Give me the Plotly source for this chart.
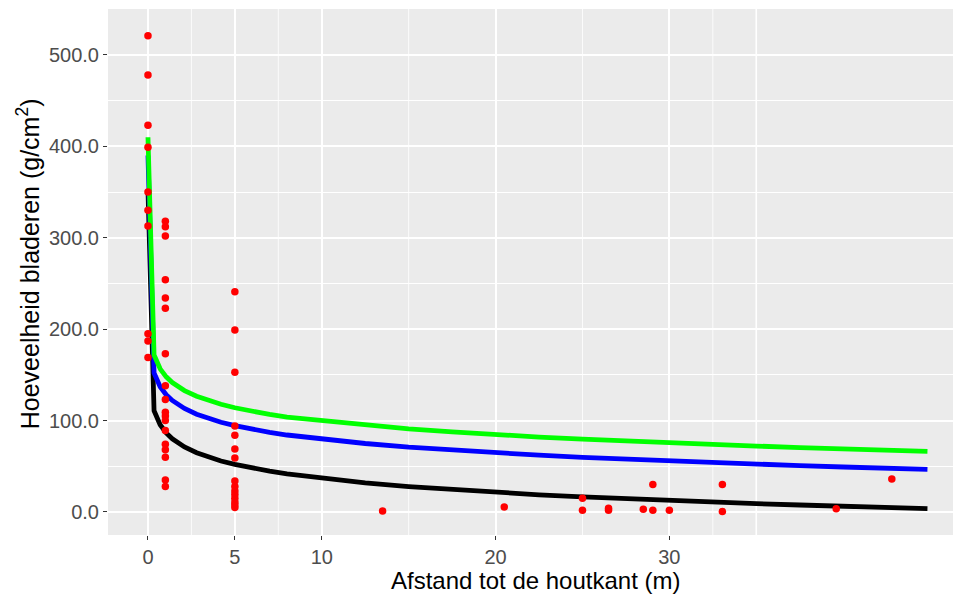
import plotly.graph_objects as go

# Measured leaf amounts per distance from the forest edge
pts_x = (
    [0] * 10
    + [1] * 18
    + [5] * 15
    + [13.5, 20.5, 25, 25, 26.5, 26.5, 28.5, 29.05, 29.05, 30, 33.05, 33.05, 39.6, 42.8]
)
pts_y = (
    [521, 478, 423, 399, 350, 330, 313, 195, 187, 169]
    + [318, 312, 302, 254, 234, 223, 173, 138, 123, 109, 105, 100, 89, 74, 68, 60, 35, 28]
    + [241, 199, 153, 94, 84, 69, 59, 34, 28, 23, 19, 15, 11, 8, 5]
    + [1, 5.5, 15, 2, 4, 2, 3, 30, 2, 2, 30, 0.5, 3.6, 36]
)

# Fitted curves sampled along the distance axis
fit_x = [0, 0.35, 0.7, 1.05, 1.4, 2.1, 2.8, 3.5, 4.2, 5, 6, 7, 8, 10, 12.5, 15,
         17.5, 20, 22.5, 25, 27.5, 30, 32.5, 35, 37.5, 40, 42.5, 44.85]
fit_black = [353, 110.7, 95.4, 86.4, 80.1, 71.1, 64.8, 59.9, 55.8, 52.0, 48.0, 44.6,
             41.6, 36.7, 31.8, 27.8, 24.4, 21.4, 18.8, 16.5, 14.4, 12.5, 10.7, 9.1,
             7.6, 6.1, 4.8, 3.6]
fit_blue = [390, 152.0, 137.0, 128.2, 122.0, 113.2, 107.0, 102.1, 98.2, 94.4, 90.4,
            87.1, 84.2, 79.8, 74.9, 70.9, 67.6, 64.6, 62.1, 59.8, 57.7, 55.6, 53.8,
            52.1, 50.6, 49.2, 47.9, 46.7]
fit_green = [410, 171.7, 156.6, 147.8, 141.6, 132.8, 126.6, 121.7, 117.8, 114.0, 110.0,
             106.7, 103.8, 99.9, 95.0, 91.0, 87.7, 84.4, 81.9, 79.6, 77.5, 75.6, 73.8,
             72.1, 70.5, 68.9, 67.6, 66.4]

x_ticks = [0, 5, 10, 20, 30]
x_minor_grid = [2.5, 7.5, 15, 25, 32.5]
x_extra_major_grid = [35]
y_ticks = [0, 100, 200, 300, 400, 500]

FONT = "Liberation Sans, Arial, sans-serif"

fig = go.Figure()

for ys, col in [(fit_black, "black"), (fit_blue, "#0000FF"), (fit_green, "#00FF00")]:
    fig.add_trace(go.Scatter(
        x=fit_x, y=ys, mode="lines",
        line=dict(color=col, width=4.8),
        hoverinfo="skip", showlegend=False,
    ))

fig.add_trace(go.Scatter(
    x=pts_x, y=pts_y, mode="markers",
    marker=dict(color="#FF0000", size=7.5, line=dict(width=0)),
    showlegend=False,
))

shapes = []
for v in x_minor_grid:
    shapes.append(dict(type="line", xref="x", yref="paper", x0=v, x1=v, y0=0, y1=1,
                       line=dict(color="white", width=0.8), layer="below"))
for v in x_extra_major_grid:
    shapes.append(dict(type="line", xref="x", yref="paper", x0=v, x1=v, y0=0, y1=1,
                       line=dict(color="white", width=1.6), layer="below"))

fig.update_layout(
    width=953, height=595,
    margin=dict(l=108, r=0, t=9, b=60),
    paper_bgcolor="white",
    plot_bgcolor="#EBEBEB",
    shapes=shapes,
    xaxis=dict(
        range=[-2.30, 46.32],
        tickvals=x_ticks,
        ticktext=[str(v) for v in x_ticks],
        showgrid=True, gridcolor="white", gridwidth=1.6,
        zeroline=False, showline=False,
        ticks="outside", ticklen=4, tickwidth=1.1, tickcolor="#333333",
        tickfont=dict(family=FONT, size=20, color="#4D4D4D"),
    ),
    yaxis=dict(
        range=[-25.2, 550.3],
        tickvals=y_ticks,
        tickformat=".1f",
        showgrid=True, gridcolor="white", gridwidth=1.6,
        minor=dict(dtick=50, tick0=0, showgrid=True, gridcolor="white", gridwidth=0.8),
        zeroline=False, showline=False,
        ticks="outside", ticklen=4, tickwidth=1.1, tickcolor="#333333",
        tickfont=dict(family=FONT, size=20, color="#4D4D4D"),
    ),
    annotations=[
        dict(text="Afstand tot de houtkant (m)", xref="paper", yref="paper",
             x=0.5065, y=-0.0856, xanchor="center", yanchor="middle", showarrow=False,
             font=dict(family=FONT, size=24, color="black")),
        dict(text="Hoeveelheid bladeren (g/cm<sup>2</sup>)", xref="paper", yref="paper",
             x=-0.0945, y=0.515, xanchor="center", yanchor="middle", showarrow=False,
             textangle=-90, font=dict(family=FONT, size=25, color="black")),
    ],
)

fig.write_html("out.html")
